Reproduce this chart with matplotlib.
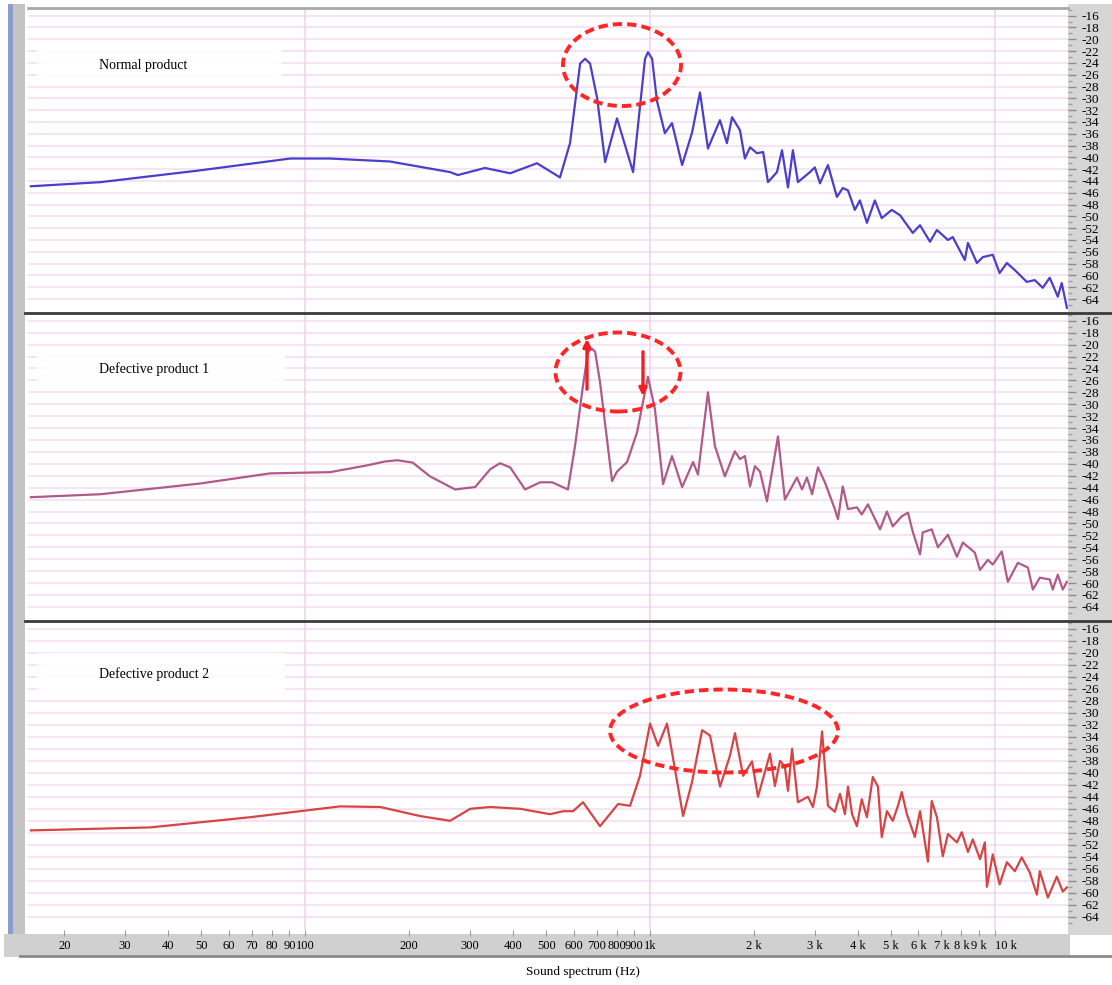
import matplotlib
matplotlib.use("Agg")
import matplotlib.pyplot as plt
from matplotlib.patches import Ellipse, Rectangle, FancyArrowPatch
from matplotlib.lines import Line2D
import numpy as np

plt.rcParams['font.family'] = ['Liberation Serif', 'DejaVu Serif']

# ---- data (Hz, dB) ----
freq_normal = [16.0, 25.5, 49.6, 90.5, 118, 176, 263, 277, 332, 393, 470, 548, 586, 627, 648,
               670, 702, 741, 802, 893, 967, 986, 1014, 1047, 1104, 1158, 1239, 1324, 1396,
               1472, 1595, 1671, 1729, 1823, 1884, 1950, 2042, 2128, 2198, 2334, 2414, 2512,
               2596, 2685, 2909, 3006, 3111, 3281, 3483, 3622, 3750, 3926, 4062, 4256, 4487,
               4699, 5023, 5309, 5781, 6067, 6486, 6792, 7311, 7551, 8185, 8356, 8872, 9226,
               9863, 10324, 10836, 11429, 12375, 13055, 13772, 14427, 15226, 15631, 16181]
level_normal = [-44.9, -44.2, -42.2, -40.2, -40.2, -40.7, -42.5, -43.0, -41.8, -42.7, -41.0,
                -43.4, -37.6, -24.1, -23.3, -24.1, -29.9, -40.8, -33.4, -42.5, -23.3, -22.2,
                -23.3, -30.4, -35.9, -34.2, -41.3, -35.8, -29.0, -38.5, -33.7, -37.6, -33.2,
                -35.4, -40.2, -38.3, -39.3, -39.1, -44.2, -42.5, -38.8, -45.1, -38.8, -44.2,
                -42.5, -41.7, -44.4, -41.3, -46.7, -45.2, -45.6, -48.9, -47.3, -51.1, -47.3,
                -50.3, -48.9, -49.8, -52.8, -51.5, -54.3, -52.3, -54.0, -53.5, -57.4, -54.5,
                -57.9, -56.9, -56.5, -59.6, -57.9, -59.1, -61.1, -60.8, -62.1, -60.4, -63.6,
                -61.3, -65.5]

freq_def1 = [16.0, 25.5, 49.6, 79.2, 118, 150, 170.6, 185, 205, 230, 272, 311, 344, 367, 393,
             434, 480, 520, 578, 606, 639, 661, 679, 693, 716, 776, 802, 858, 917, 986, 1033,
             1091, 1158, 1239, 1333, 1377, 1472, 1542, 1648, 1762, 1823, 1884, 1950, 2014,
             2084, 2183, 2350, 2461, 2667, 2759, 2851, 2951, 3069, 3214, 3436, 3508, 3622,
             3750, 3981, 4111, 4285, 4645, 4864, 5058, 5370, 5597, 5781, 6067, 6180, 6561,
             6839, 7311, 7762, 8075, 8750, 9057, 9550, 9863, 10471, 10907, 11661, 12470,
             12890, 13500, 14427, 14720, 15226, 15740, 16181]
level_def1 = [-45.6, -45.1, -43.3, -41.6, -41.4, -40.3, -39.6, -39.4, -39.8, -42.1, -44.3,
              -43.9, -40.9, -39.9, -40.6, -44.3, -43.1, -43.1, -44.3, -37.0, -26.9, -21.2,
              -20.7, -21.2, -26.3, -42.9, -41.3, -39.7, -34.7, -25.4, -30.8, -43.4, -38.7,
              -43.9, -39.7, -41.8, -28.0, -37.0, -42.1, -37.9, -39.2, -38.7, -43.8, -40.4,
              -41.3, -46.3, -35.4, -46.0, -42.3, -44.3, -42.3, -45.1, -40.6, -43.1, -47.6,
              -49.3, -43.8, -47.6, -47.3, -48.5, -46.8, -51.0, -48.0, -50.5, -48.8, -48.2,
              -51.4, -55.2, -51.5, -51.0, -54.0, -51.9, -55.6, -53.2, -54.9, -57.8, -56.1,
              -56.9, -54.7, -59.8, -56.6, -57.4, -61.1, -59.1, -59.4, -61.1, -58.6, -61.1,
              -59.8]

freq_def2 = [16.0, 35.5, 69.3, 126, 165, 215, 263, 301, 344, 420, 513, 560, 598, 639, 716,
             808, 875, 935, 1000, 1055, 1120, 1247, 1324, 1416, 1493, 1596, 1706, 1763, 1862,
             1976, 2056, 2228, 2302, 2382, 2461, 2512, 2582, 2685, 2871, 2968, 3048, 3155,
             3281, 3436, 3556, 3675, 3750, 3855, 3981, 4111, 4256, 4345, 4426, 4581, 4699,
             4864, 5058, 5236, 5370, 5559, 5861, 6067, 6397, 6561, 6792, 7063, 7311, 7762,
             8017, 8356, 8630, 9057, 9354, 9484, 9863, 10324, 10836, 11429, 11967, 12623,
             13243, 13500, 14250, 15130, 15740, 16181]
level_def2 = [-49.6, -49.1, -47.4, -45.6, -45.7, -47.2, -48.0, -46.0, -45.7, -46.0, -46.9,
              -46.4, -46.4, -44.9, -48.9, -45.2, -45.5, -40.5, -31.8, -35.5, -31.8, -47.2,
              -41.5, -32.9, -33.8, -42.3, -37.1, -33.4, -40.5, -38.1, -44.0, -36.8, -42.2,
              -38.0, -39.0, -43.0, -36.0, -44.9, -44.0, -45.7, -42.3, -33.1, -45.5, -46.5,
              -43.5, -46.9, -42.3, -46.9, -48.9, -44.4, -47.4, -43.9, -40.7, -42.3, -50.7,
              -46.4, -48.0, -45.5, -43.2, -46.9, -50.7, -46.4, -54.8, -44.7, -47.4, -53.9,
              -50.2, -51.6, -49.9, -53.2, -51.1, -54.4, -51.6, -59.0, -53.6, -58.6, -54.9,
              -56.4, -54.1, -56.6, -60.3, -56.4, -60.8, -57.3, -59.8, -59.1]

panel_names = ["Normal product", "Defective product 1", "Defective product 2"]
panel_colors = ["#4a3ecb", "#b05a8a", "#d64545"]
series = [(freq_normal, level_normal), (freq_def1, level_def1), (freq_def2, level_def2)]

ytick_vals = list(range(-16, -65, -2))
xtick_vals = [20, 30, 40, 50, 60, 70, 80, 90, 100, 200, 300, 400, 500, 600, 700, 800, 900,
              1000, 2000, 3000, 4000, 5000, 6000, 7000, 8000, 9000, 10000]
xtick_labels = ["20", "30", "40", "50", "60", "70", "80", "90", "100", "200", "300", "400",
                "500", "600", "700", "800", "900", "1k", "2 k", "3 k", "4 k", "5 k", "6 k",
                "7 k", "8 k", "9 k", "10 k"]

W, H = 1112, 985
fig = plt.figure(figsize=(W / 100, H / 100), dpi=100)


def fx(px):
    return px / W


def fy(py):
    return 1 - py / H


# background strips (behind the axes)
fig.add_artist(Rectangle((fx(1068), fy(935)), fx(1112) - fx(1068), fy(4) - fy(935),
                         transform=fig.transFigure, fc="#d6d6d6", ec="none", zorder=-2))
fig.add_artist(Rectangle((fx(13), fy(957)), fx(25) - fx(13), fy(4) - fy(957),
                         transform=fig.transFigure, fc="#c4c4c4", ec="none", zorder=-2))
fig.add_artist(Rectangle((fx(8), fy(957)), fx(13) - fx(8), fy(4) - fy(957),
                         transform=fig.transFigure, fc="#8d9cc8", ec="none", zorder=-2))
fig.add_artist(Rectangle((fx(4), fy(957)), fx(1070) - fx(4), fy(934) - fy(957),
                         transform=fig.transFigure, fc="#d0d0d0", ec="none", zorder=-1.5))
fig.add_artist(Line2D([fx(20), fx(1112)], [fy(956), fy(956)], transform=fig.transFigure,
                      color="#8a8a8a", lw=2, zorder=-1))

panels_px = [(8, 312), (313, 620), (621, 930)]
label_y = [66, 369, 674]
box_px = [(37, 40, 282, 82), (37, 348, 285, 390), (37, 653, 285, 697)]

for i, (top, bot) in enumerate(panels_px):
    ax = fig.add_axes([fx(28), fy(bot), fx(1068) - fx(28), fy(top) - fy(bot)])
    f, lv = series[i]
    ax.plot(f, lv, color=panel_colors[i], lw=1.6, zorder=3, solid_joinstyle="round")
    ax.set_xscale("log")
    ax.set_xlim(15.7, 16300)
    ax.set_ylim(-66.2, -14.7)
    ax.yaxis.tick_right()
    ax.set_yticks(ytick_vals)
    ax.set_yticklabels([str(v) for v in ytick_vals], fontsize=9.5)
    ax.set_yticks(np.arange(-15, -66, -2), minor=True)
    ax.tick_params(axis="y", which="major", direction="out", length=6, width=1,
                   color="#8c8c8c", pad=4)
    ax.tick_params(axis="y", which="minor", direction="out", length=3, width=1,
                   color="#a0a0a0")
    for yv in ytick_vals:
        ax.axhline(yv, color="#f4dbf0", lw=1.1, zorder=1)
    for xv in (100, 1000, 10000):
        ax.axvline(xv, color="#f0d2ee", lw=1.1, zorder=1)
    ax.set_xticks(xtick_vals)
    ax.xaxis.set_minor_locator(matplotlib.ticker.NullLocator())
    if i < 2:
        ax.tick_params(axis="x", which="both", bottom=False, labelbottom=False)
    else:
        ax.set_xticklabels(xtick_labels, fontsize=9)
        ax.tick_params(axis="x", direction="out", length=4, color="#9a9a9a", pad=3)
        ax.get_xticklabels()[-1].set_horizontalalignment("left")
    for s in ax.spines.values():
        s.set_visible(False)
    if i == 0:
        ax.spines["top"].set_visible(True)
        ax.spines["top"].set_color("#a8a8a8")
        ax.spines["top"].set_linewidth(2)

    x0, y0, x1, y1 = box_px[i]
    fig.add_artist(Rectangle((fx(x0), fy(y1)), fx(x1) - fx(x0), fy(y0) - fy(y1),
                             transform=fig.transFigure, fc="white", ec="none",
                             alpha=0.9, zorder=1))
    fig.text(fx(99), fy(label_y[i]), panel_names[i], fontsize=10, va="center",
             ha="left", zorder=2)

# panel separators
for yp in (312.5, 620.5):
    fig.add_artist(Line2D([fx(25), fx(1112)], [fy(yp), fy(yp)], transform=fig.transFigure,
                          color="#3a3a3a", lw=2, zorder=4))

# red dashed ellipses
ellipses_px = [(622, 65, 118, 82), (618, 372, 125, 79), (724, 731, 228, 83)]
for cx, cy, w, h in ellipses_px:
    fig.add_artist(Ellipse((fx(cx), fy(cy)), w / W, h / H, transform=fig.transFigure,
                           fill=False, ec="#ff2626", lw=2.8, ls=(0, (2.4, 1.3)), zorder=5))

# arrows in defective product 1
fig.add_artist(FancyArrowPatch((fx(587), fy(392)), (fx(587), fy(336)),
                               transform=fig.transFigure, arrowstyle="-|>",
                               mutation_scale=11, color="#f02020", lw=2.4, zorder=6))
fig.add_artist(FancyArrowPatch((fx(643), fy(349)), (fx(643), fy(399)),
                               transform=fig.transFigure, arrowstyle="-|>",
                               mutation_scale=11, color="#f02020", lw=2.4, zorder=6))

fig.text(fx(583), fy(972), "Sound spectrum (Hz)", fontsize=9.5, ha="center", va="center")

fig.savefig("out.png", dpi=100)
